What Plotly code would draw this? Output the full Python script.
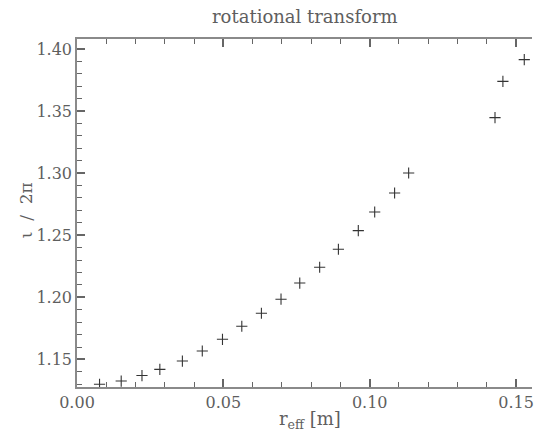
import plotly.graph_objects as go

r_eff = [0.0077, 0.0151, 0.0222, 0.0283, 0.0360, 0.0428, 0.0497, 0.0563, 0.0630, 0.0697,
         0.0761, 0.0829, 0.0893, 0.0961, 0.1017, 0.1085, 0.1133, 0.1428, 0.1455, 0.1528]
iota = [1.1300, 1.1326, 1.1370, 1.1420, 1.1487, 1.1568, 1.1662, 1.1767, 1.1872, 1.1985,
        1.2115, 1.2242, 1.2387, 1.2537, 1.2687, 1.2840, 1.3001, 1.3447, 1.3739, 1.3914]

title_text = "rotational transform"
x_label = "r<sub>eff</sub> [m]"
y_label = "\u03b9  /  2\u03c0"

FONT = "DejaVu Serif"
TXT = "#5e5e5e"
AX = "#8a8a8a"
TK = "#666666"

fig = go.Figure()
fig.add_trace(go.Scatter(
    x=r_eff, y=iota, mode="markers",
    marker=dict(symbol="cross-thin", size=8, line=dict(width=1.1, color="#333333")),
    showlegend=False, hoverinfo="skip"))

L, T, B = 77, 39, 45
W, H = 534, 432
pw = W - L
ph = H - T - B

fig.update_layout(
    width=W, height=H,
    margin=dict(l=L, r=0, t=T, b=B),
    paper_bgcolor="white", plot_bgcolor="white",
    font=dict(family=FONT, color=TXT, size=16),
)
fig.update_xaxes(
    range=[0, 0.15544], tick0=0, dtick=0.05, tickformat=".2f",
    ticks="inside", ticklen=8, tickwidth=1.5, tickcolor=TK,
    minor=dict(tick0=0, dtick=0.01, ticks="inside", ticklen=5, tickwidth=1.2, tickcolor=TK),
    showline=True, linecolor=AX, linewidth=1.5, mirror="ticks",
    showgrid=False, zeroline=False, ticklabeloverflow="allow",
    tickfont=dict(family=FONT, size=16, color=TXT),
)
fig.update_yaxes(
    range=[1.1278, 1.408], tick0=1.0, dtick=0.05, tickformat=".2f",
    ticks="inside", ticklen=8, tickwidth=1.5, tickcolor=TK,
    minor=dict(tick0=1.0, dtick=0.01, ticks="inside", ticklen=5, tickwidth=1.2, tickcolor=TK),
    showline=True, linecolor=AX, linewidth=1.5,
    showgrid=False, zeroline=False,
    tickfont=dict(family=FONT, size=16, color=TXT),
)

def px_x(p):
    return (p - L) / pw

def px_y(p):
    return (H - B - p) / ph

fig.add_annotation(text=title_text, xref="paper", yref="paper",
                   x=px_x(306), y=px_y(17), showarrow=False,
                   xanchor="center", yanchor="middle",
                   font=dict(family=FONT, size=18, color=TXT))
fig.add_annotation(text=x_label, xref="paper", yref="paper",
                   x=px_x(311), y=px_y(420), showarrow=False,
                   xanchor="center", yanchor="middle",
                   font=dict(family=FONT, size=18, color=TXT))
fig.add_annotation(text=y_label, xref="paper", yref="paper",
                   x=px_x(26), y=px_y(210), showarrow=False, textangle=-90,
                   xanchor="center", yanchor="middle",
                   font=dict(family=FONT, size=17, color=TXT))

fig.write_html("out.html")
